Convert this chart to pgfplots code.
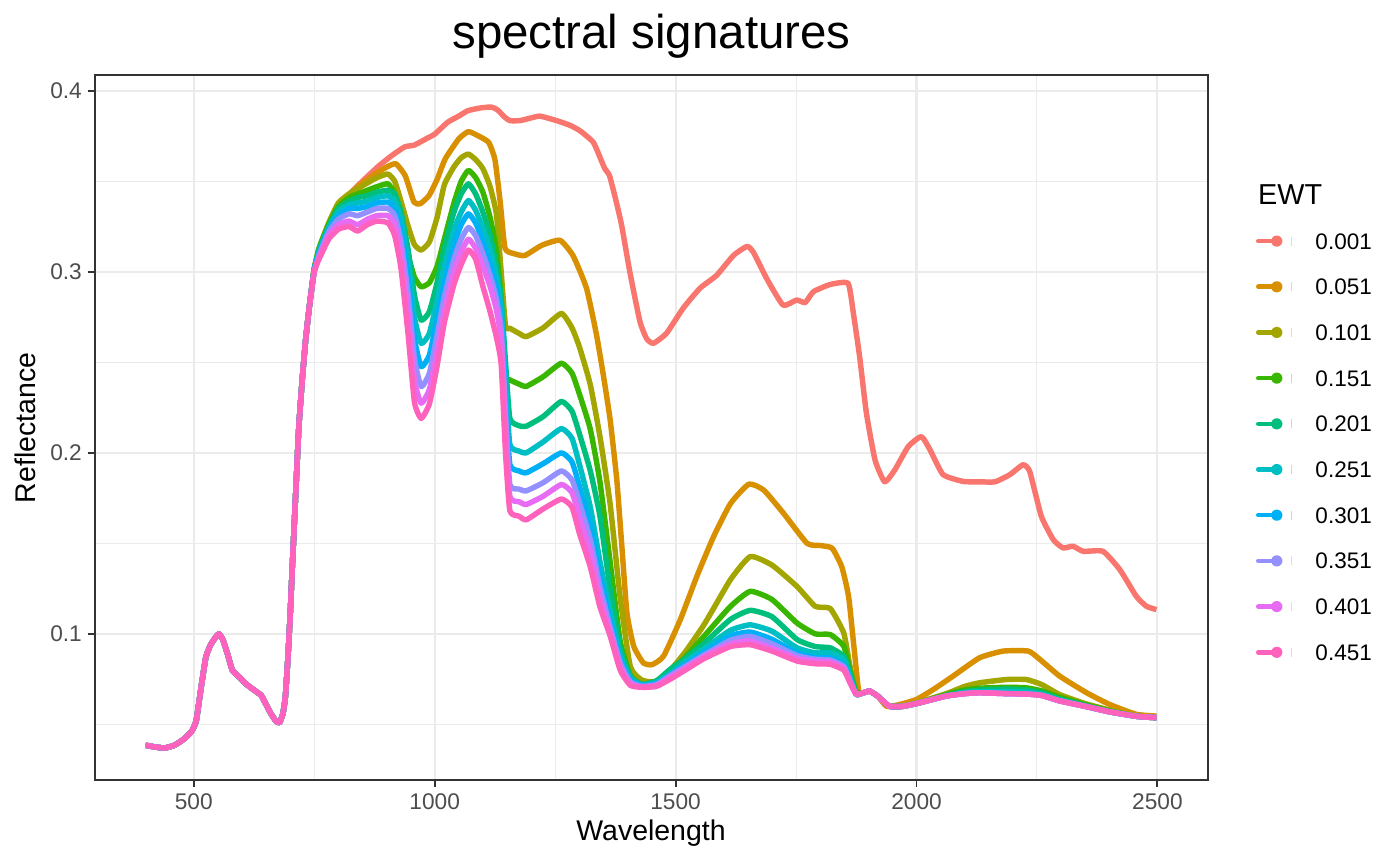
\documentclass[border=0pt]{standalone}
\usepackage{pgfplots}
\pgfplotsset{compat=1.18}
\usepackage{fontspec}
\setmainfont{Liberation Sans}
\definecolor{c1}{HTML}{F8766D}
\definecolor{c2}{HTML}{D89000}
\definecolor{c3}{HTML}{A3A500}
\definecolor{c4}{HTML}{39B600}
\definecolor{c5}{HTML}{00BF7D}
\definecolor{c6}{HTML}{00BFC4}
\definecolor{c7}{HTML}{00B0F6}
\definecolor{c8}{HTML}{9590FF}
\definecolor{c9}{HTML}{E76BF3}
\definecolor{c10}{HTML}{FF62BC}
\definecolor{gridc}{HTML}{EBEBEB}
\definecolor{axc}{HTML}{333333}
\definecolor{tickc}{HTML}{4D4D4D}
\begin{document}
\begin{tikzpicture}
\useasboundingbox (-1.9cm,-1.7cm) rectangle (26.1cm,15.6cm);
\begin{axis}[
  at={(0,0)}, anchor=south west, scale only axis,
  width=22.26cm, height=14.1cm,
  xmin=295, xmax=2605, ymin=0.0193, ymax=0.4087,
  xtick={500,1000,1500,2000,2500},
  minor xtick={750,1250,1750,2250},
  ytick={0.1,0.2,0.3,0.4},
  minor ytick={0.05,0.15,0.25,0.35},
  yticklabels={0.1,0.2,0.3,0.4},
  grid=both,
  major grid style={gridc, line width=1.15pt},
  minor grid style={gridc, line width=0.6pt},
  axis line style={axc, line width=0.8pt},
  tick align=outside, tick pos=left,
  major tick length=0.14cm, minor tick length=0pt,
  tick style={axc, line width=1.1pt},
  ticklabel style={font=\fontsize{12.9}{15}\selectfont, text=tickc},
  /pgf/number format/assume math mode=true,
  /pgf/number format/1000 sep={},
  legend cell align=left,
  legend style={at={(1.0431,0.7759)}, anchor=north west, draw=none, fill=none,
    inner sep=0pt, outer sep=0pt, font=\fontsize{12.8}{15}\selectfont,
    row sep=16.8pt, nodes={inner sep=0pt, text height=9.2pt, text depth=0pt},
    cells={anchor=west}},
  legend image code/.code={%
    \draw[#1, line width=2.6pt, line cap=round] (0.05cm,0cm) -- (0.4cm,0cm);
    \fill[#1] (0.42cm,0cm) circle (1.7pt);
    \draw[#1, opacity=0.35, line width=0.8pt] (0.72cm,-0.09cm) -- (0.72cm,0.09cm);
    \path (1.14cm,0cm);},
  every axis plot/.append style={line width=3.1pt, line join=round, no markers, smooth, tension=0.3},
]
% 0.001
\addplot[c1] coordinates {(400,0.0385)(420,0.0375)(440,0.037)(460,0.0385)(480,0.042)(495,0.046)(505,0.052)(515,0.070)(525,0.087)(535,0.094)(545,0.098)(552,0.100)(560,0.097)(570,0.089)(580,0.080)(595,0.076)(610,0.072)(625,0.069)(640,0.066)(650,0.061)(660,0.056)(670,0.052)(678,0.051)(685,0.056)(690,0.065)(695,0.085)(700,0.110)(705,0.140)(712,0.180)(718,0.214)(725,0.240)(732,0.262)(740,0.281)(750,0.302)
(760,0.310)(780,0.322)(800,0.333)(820,0.342)(850,0.350)(882,0.358)(910,0.364)(938,0.369)(958,0.370)(986,0.374)(1000,0.376)(1027,0.3826)(1050,0.386)(1069,0.389)(1095,0.3905)(1117,0.391)(1130,0.3895)(1145,0.3855)(1156,0.3835)(1177,0.3835)(1200,0.385)(1218,0.386)(1240,0.3845)(1253,0.3835)(1280,0.381)(1301,0.378)(1329,0.3716)(1345,0.362)(1353,0.357)(1363,0.353)(1377,0.3385)(1388,0.3257)(1405,0.300)(1426,0.2725)(1440,0.263)(1454,0.2605)(1481,0.266)(1516,0.280)(1551,0.291)(1585,0.298)(1620,0.309)(1648,0.314)(1661,0.311)(1689,0.2963)(1723,0.2816)(1751,0.2844)(1769,0.283)(1786,0.289)(1821,0.293)(1858,0.2936)(1869,0.277)(1882,0.253)(1896,0.222)(1914,0.196)(1934,0.184)(1955,0.1906)(1983,0.2035)(2010,0.209)(2028,0.2017)(2055,0.188)(2097,0.1842)(2131,0.184)(2163,0.184)(2194,0.188)(2221,0.1934)(2235,0.1897)(2259,0.165)(2284,0.152)(2304,0.1475)(2325,0.1484)(2346,0.1456)(2387,0.1456)(2422,0.1355)(2456,0.1208)(2477,0.1153)(2498,0.1134)};
\addlegendentry{0.001}
% 0.051
\addplot[c2] coordinates {(400,0.0385)(420,0.0375)(440,0.037)(460,0.0385)(480,0.042)(495,0.046)(505,0.052)(515,0.070)(525,0.087)(535,0.094)(545,0.098)(552,0.100)(560,0.097)(570,0.089)(580,0.080)(595,0.076)(610,0.072)(625,0.069)(640,0.066)(650,0.061)(660,0.056)(670,0.052)(678,0.051)(685,0.056)(690,0.065)(695,0.085)(700,0.110)(705,0.140)(712,0.180)(718,0.214)(725,0.240)(732,0.262)(740,0.281)(750,0.302)
(760,0.311)(780,0.323)(800,0.334)(820,0.342)(850,0.349)(882,0.355)(905,0.3585)(920,0.3596)(939,0.353)(957,0.3385)(970,0.3376)(988,0.342)(1005,0.351)(1022,0.3624)(1050,0.3734)(1070,0.3774)(1091,0.375)(1112,0.3715)(1125,0.362)(1136,0.3385)(1146,0.313)(1165,0.310)(1187,0.309)(1222,0.3146)(1260,0.3174)(1287,0.309)(1315,0.291)(1336,0.265)(1350,0.243)(1364,0.2186)(1378,0.185)(1388,0.150)(1399,0.1116)(1413,0.0932)(1433,0.084)(1451,0.083)(1475,0.0877)(1510,0.108)(1544,0.1317)(1579,0.1538)(1614,0.172)(1652,0.1827)(1683,0.1794)(1724,0.1666)(1773,0.150)(1801,0.1488)(1825,0.1473)(1845,0.137)(1859,0.1207)(1870,0.0932)(1880,0.0684)(1890,0.0675)(1903,0.0684)(1920,0.0655)(1938,0.060)(1965,0.061)(2000,0.0638)(2035,0.0693)(2076,0.0767)(2131,0.0868)(2180,0.0905)(2232,0.0905)(2256,0.0859)(2297,0.0767)(2353,0.0675)(2401,0.061)(2456,0.0556)(2498,0.0546)};
\addlegendentry{0.051}
% 0.101
\addplot[c3] coordinates {(400,0.0385)(420,0.0375)(440,0.037)(460,0.0385)(480,0.042)(495,0.046)(505,0.052)(515,0.070)(525,0.087)(535,0.094)(545,0.098)(552,0.100)(560,0.097)(570,0.089)(580,0.080)(595,0.076)(610,0.072)(625,0.069)(640,0.066)(650,0.061)(660,0.056)(670,0.052)(678,0.051)(685,0.056)(690,0.065)(695,0.085)(700,0.110)(705,0.140)(712,0.180)(718,0.214)(725,0.240)(732,0.262)(740,0.281)(750,0.301)
(760,0.313)(780,0.327)(800,0.338)(822,0.343)(840,0.346)(860,0.349)(880,0.352)(903,0.354)(917,0.350)(930,0.339)(945,0.325)(958,0.315)(972,0.312)(989,0.3165)(1005,0.330)(1020,0.348)(1040,0.358)(1055,0.363)(1070,0.365)(1085,0.362)(1100,0.357)(1115,0.347)(1128,0.332)(1138,0.300)(1147,0.270)(1156,0.2688)(1175,0.266)(1190,0.2642)(1225,0.269)(1263,0.277)(1285,0.269)(1301,0.258)(1323,0.2376)(1343,0.209)(1364,0.172)(1385,0.120)(1406,0.082)(1430,0.0745)(1460,0.0735)(1489,0.080)(1520,0.090)(1560,0.1055)(1614,0.130)(1655,0.1427)(1700,0.138)(1752,0.1262)(1790,0.1152)(1821,0.114)(1849,0.1005)(1862,0.082)(1875,0.068)(1890,0.0675)(1903,0.0684)(1920,0.0655)(1944,0.060)(1972,0.060)(2007,0.0625)(2062,0.067)(2100,0.071)(2131,0.073)(2187,0.0748)(2228,0.0748)(2260,0.072)(2297,0.0665)(2350,0.0615)(2400,0.058)(2456,0.0548)(2498,0.0537)};
\addlegendentry{0.101}
% 0.151
\addplot[c4] coordinates {(400,0.0385)(420,0.0375)(440,0.037)(460,0.0385)(480,0.042)(495,0.046)(505,0.052)(515,0.070)(525,0.087)(535,0.094)(545,0.098)(552,0.100)(560,0.097)(570,0.089)(580,0.080)(595,0.076)(610,0.072)(625,0.069)(640,0.066)(650,0.061)(660,0.056)(670,0.052)(678,0.051)(685,0.056)(690,0.065)(695,0.085)(700,0.110)(705,0.140)(712,0.180)(718,0.214)(725,0.240)(732,0.262)(740,0.281)(750,0.301)
(760,0.313)(780,0.326)(800,0.336)(822,0.341)(840,0.343)(860,0.345)(880,0.347)(903,0.3486)(917,0.343)(930,0.327)(945,0.309)(958,0.297)(972,0.2917)(989,0.294)(1005,0.303)(1020,0.318)(1040,0.338)(1055,0.350)(1070,0.356)(1085,0.352)(1100,0.344)(1115,0.330)(1128,0.312)(1138,0.285)(1147,0.243)(1156,0.2403)(1175,0.238)(1190,0.2367)(1225,0.242)(1263,0.2495)(1285,0.244)(1301,0.232)(1323,0.213)(1343,0.184)(1364,0.140)(1385,0.096)(1406,0.077)(1430,0.0722)(1460,0.074)(1489,0.0785)(1520,0.087)(1560,0.099)(1614,0.1152)(1655,0.1235)(1700,0.119)(1752,0.106)(1790,0.100)(1821,0.0996)(1849,0.0932)(1862,0.080)(1875,0.068)(1890,0.0675)(1903,0.0684)(1920,0.0655)(1944,0.060)(1972,0.060)(2007,0.062)(2062,0.0665)(2100,0.069)(2131,0.070)(2187,0.0705)(2228,0.0702)(2260,0.0685)(2297,0.065)(2350,0.061)(2400,0.0575)(2456,0.0545)(2498,0.0537)};
\addlegendentry{0.151}
% 0.201
\addplot[c5] coordinates {(400,0.0385)(420,0.0375)(440,0.037)(460,0.0385)(480,0.042)(495,0.046)(505,0.052)(515,0.070)(525,0.087)(535,0.094)(545,0.098)(552,0.100)(560,0.097)(570,0.089)(580,0.080)(595,0.076)(610,0.072)(625,0.069)(640,0.066)(650,0.061)(660,0.056)(670,0.052)(678,0.051)(685,0.056)(690,0.065)(695,0.085)(700,0.110)(705,0.140)(712,0.180)(718,0.214)(725,0.240)(732,0.262)(740,0.281)(750,0.301)
(760,0.312)(780,0.325)(800,0.335)(822,0.339)(840,0.341)(860,0.342)(880,0.344)(903,0.345)(917,0.343)(930,0.333)(945,0.312)(958,0.287)(972,0.2733)(989,0.278)(1005,0.294)(1020,0.313)(1040,0.333)(1055,0.343)(1070,0.3486)(1085,0.343)(1100,0.333)(1115,0.320)(1128,0.303)(1138,0.285)(1147,0.250)(1156,0.219)(1175,0.215)(1190,0.2147)(1225,0.220)(1263,0.2284)(1285,0.223)(1301,0.210)(1323,0.190)(1343,0.165)(1364,0.125)(1385,0.092)(1406,0.0765)(1430,0.072)(1460,0.074)(1489,0.0805)(1520,0.0865)(1560,0.095)(1614,0.108)(1655,0.113)(1700,0.1095)(1752,0.0969)(1790,0.093)(1821,0.0923)(1849,0.0877)(1862,0.078)(1875,0.0666)(1890,0.0675)(1903,0.0684)(1920,0.0655)(1944,0.060)(1972,0.060)(2007,0.062)(2062,0.066)(2100,0.068)(2131,0.069)(2187,0.0695)(2228,0.069)(2260,0.0675)(2297,0.064)(2350,0.0605)(2400,0.057)(2456,0.0545)(2498,0.0537)};
\addlegendentry{0.201}
% 0.251
\addplot[c6] coordinates {(400,0.0385)(420,0.0375)(440,0.037)(460,0.0385)(480,0.042)(495,0.046)(505,0.052)(515,0.070)(525,0.087)(535,0.094)(545,0.098)(552,0.100)(560,0.097)(570,0.089)(580,0.080)(595,0.076)(610,0.072)(625,0.069)(640,0.066)(650,0.061)(660,0.056)(670,0.052)(678,0.051)(685,0.056)(690,0.065)(695,0.085)(700,0.110)(705,0.140)(712,0.180)(718,0.214)(725,0.240)(732,0.262)(740,0.281)(750,0.301)
(760,0.311)(780,0.324)(800,0.333)(822,0.337)(840,0.338)(860,0.339)(880,0.341)(903,0.342)(917,0.339)(930,0.329)(945,0.305)(958,0.275)(972,0.2605)(989,0.266)(1005,0.284)(1020,0.303)(1040,0.323)(1055,0.333)(1070,0.3394)(1085,0.334)(1100,0.324)(1115,0.312)(1128,0.297)(1138,0.279)(1147,0.240)(1156,0.2046)(1175,0.201)(1190,0.200)(1225,0.206)(1263,0.2134)(1285,0.208)(1301,0.193)(1323,0.170)(1343,0.140)(1364,0.112)(1385,0.088)(1406,0.0755)(1430,0.072)(1460,0.073)(1489,0.078)(1520,0.0845)(1560,0.092)(1614,0.102)(1655,0.105)(1700,0.1015)(1752,0.0923)(1790,0.0895)(1821,0.0895)(1849,0.0858)(1862,0.076)(1875,0.0666)(1890,0.0675)(1903,0.0684)(1920,0.0655)(1944,0.060)(1972,0.060)(2007,0.062)(2062,0.0657)(2100,0.0675)(2131,0.068)(2187,0.068)(2228,0.0678)(2260,0.0665)(2297,0.0635)(2350,0.060)(2400,0.057)(2456,0.0545)(2498,0.0537)};
\addlegendentry{0.251}
% 0.301
\addplot[c7] coordinates {(400,0.0385)(420,0.0375)(440,0.037)(460,0.0385)(480,0.042)(495,0.046)(505,0.052)(515,0.070)(525,0.087)(535,0.094)(545,0.098)(552,0.100)(560,0.097)(570,0.089)(580,0.080)(595,0.076)(610,0.072)(625,0.069)(640,0.066)(650,0.061)(660,0.056)(670,0.052)(678,0.051)(685,0.056)(690,0.065)(695,0.085)(700,0.110)(705,0.140)(712,0.180)(718,0.214)(725,0.240)(732,0.262)(740,0.281)(750,0.301)
(760,0.310)(780,0.323)(800,0.331)(822,0.335)(840,0.335)(860,0.336)(880,0.338)(903,0.3385)(917,0.335)(930,0.323)(945,0.296)(958,0.263)(972,0.2476)(989,0.254)(1005,0.274)(1020,0.294)(1040,0.315)(1055,0.326)(1070,0.332)(1085,0.327)(1100,0.317)(1115,0.305)(1128,0.291)(1138,0.274)(1147,0.230)(1156,0.1936)(1175,0.190)(1190,0.189)(1225,0.194)(1263,0.200)(1285,0.195)(1301,0.181)(1323,0.160)(1343,0.132)(1364,0.108)(1385,0.086)(1406,0.0745)(1430,0.0715)(1460,0.0725)(1489,0.0775)(1520,0.083)(1560,0.090)(1614,0.099)(1655,0.101)(1700,0.097)(1752,0.0895)(1790,0.087)(1821,0.0868)(1849,0.083)(1862,0.075)(1875,0.0666)(1890,0.0675)(1903,0.0684)(1920,0.0655)(1944,0.060)(1972,0.060)(2007,0.062)(2062,0.0657)(2100,0.067)(2131,0.0675)(2187,0.067)(2228,0.0668)(2260,0.066)(2297,0.063)(2350,0.060)(2400,0.057)(2456,0.0545)(2498,0.0537)};
\addlegendentry{0.301}
% 0.351
\addplot[c8] coordinates {(400,0.0385)(420,0.0375)(440,0.037)(460,0.0385)(480,0.042)(495,0.046)(505,0.052)(515,0.070)(525,0.087)(535,0.094)(545,0.098)(552,0.100)(560,0.097)(570,0.089)(580,0.080)(595,0.076)(610,0.072)(625,0.069)(640,0.066)(650,0.061)(660,0.056)(670,0.052)(678,0.051)(685,0.056)(690,0.065)(695,0.085)(700,0.110)(705,0.140)(712,0.180)(718,0.214)(725,0.240)(732,0.262)(740,0.281)(750,0.300)
(760,0.309)(780,0.322)(800,0.329)(822,0.332)(840,0.331)(860,0.333)(880,0.335)(903,0.335)(917,0.331)(930,0.317)(945,0.287)(958,0.252)(972,0.2366)(989,0.244)(1005,0.265)(1020,0.286)(1040,0.307)(1055,0.318)(1070,0.3245)(1085,0.320)(1100,0.310)(1115,0.298)(1128,0.285)(1138,0.268)(1147,0.222)(1156,0.1826)(1175,0.180)(1190,0.179)(1225,0.1835)(1263,0.190)(1285,0.185)(1301,0.172)(1323,0.152)(1343,0.126)(1364,0.104)(1385,0.084)(1406,0.0735)(1430,0.071)(1460,0.072)(1489,0.077)(1520,0.082)(1560,0.0885)(1614,0.0965)(1655,0.0986)(1700,0.0945)(1752,0.088)(1790,0.086)(1821,0.0855)(1849,0.082)(1862,0.074)(1875,0.0666)(1890,0.0675)(1903,0.0684)(1920,0.0655)(1944,0.060)(1972,0.060)(2007,0.062)(2062,0.0657)(2100,0.067)(2131,0.0675)(2187,0.067)(2228,0.0668)(2260,0.066)(2297,0.063)(2350,0.060)(2400,0.057)(2456,0.0545)(2498,0.0537)};
\addlegendentry{0.351}
% 0.401
\addplot[c9] coordinates {(400,0.0385)(420,0.0375)(440,0.037)(460,0.0385)(480,0.042)(495,0.046)(505,0.052)(515,0.070)(525,0.087)(535,0.094)(545,0.098)(552,0.100)(560,0.097)(570,0.089)(580,0.080)(595,0.076)(610,0.072)(625,0.069)(640,0.066)(650,0.061)(660,0.056)(670,0.052)(678,0.051)(685,0.056)(690,0.065)(695,0.085)(700,0.110)(705,0.140)(712,0.180)(718,0.214)(725,0.240)(732,0.262)(740,0.281)(750,0.300)
(760,0.308)(780,0.320)(800,0.326)(822,0.328)(840,0.326)(860,0.329)(880,0.331)(903,0.331)(917,0.326)(930,0.310)(945,0.276)(958,0.240)(972,0.2274)(989,0.235)(1005,0.256)(1020,0.278)(1040,0.300)(1055,0.311)(1070,0.318)(1085,0.313)(1100,0.303)(1115,0.292)(1128,0.279)(1138,0.262)(1147,0.215)(1156,0.176)(1175,0.173)(1190,0.1715)(1225,0.176)(1263,0.1825)(1285,0.178)(1301,0.164)(1323,0.145)(1343,0.120)(1364,0.101)(1385,0.082)(1406,0.0725)(1430,0.0708)(1460,0.0715)(1489,0.076)(1520,0.081)(1560,0.0875)(1614,0.0945)(1655,0.096)(1700,0.092)(1752,0.0865)(1790,0.085)(1821,0.0845)(1849,0.081)(1862,0.0735)(1875,0.0666)(1890,0.0675)(1903,0.0684)(1920,0.0655)(1944,0.060)(1972,0.060)(2007,0.062)(2062,0.0657)(2100,0.067)(2131,0.0675)(2187,0.067)(2228,0.0668)(2260,0.066)(2297,0.063)(2350,0.060)(2400,0.057)(2456,0.0545)(2498,0.0537)};
\addlegendentry{0.401}
% 0.451
\addplot[c10] coordinates {(400,0.0385)(420,0.0375)(440,0.037)(460,0.0385)(480,0.042)(495,0.046)(505,0.052)(515,0.070)(525,0.087)(535,0.094)(545,0.098)(552,0.100)(560,0.097)(570,0.089)(580,0.080)(595,0.076)(610,0.072)(625,0.069)(640,0.066)(650,0.061)(660,0.056)(670,0.052)(678,0.051)(685,0.056)(690,0.065)(695,0.085)(700,0.110)(705,0.140)(712,0.180)(718,0.214)(725,0.240)(732,0.262)(740,0.281)(750,0.300)
(760,0.307)(780,0.318)(800,0.3235)(822,0.325)(840,0.3225)(860,0.326)(880,0.328)(903,0.327)(917,0.320)(930,0.302)(945,0.265)(958,0.228)(972,0.219)(989,0.227)(1005,0.248)(1020,0.272)(1040,0.293)(1055,0.304)(1070,0.312)(1085,0.307)(1100,0.292)(1115,0.278)(1128,0.264)(1138,0.249)(1147,0.200)(1156,0.168)(1175,0.165)(1190,0.163)(1225,0.169)(1263,0.1745)(1285,0.170)(1301,0.155)(1323,0.137)(1343,0.115)(1364,0.099)(1385,0.080)(1406,0.0716)(1430,0.0705)(1460,0.071)(1489,0.075)(1520,0.080)(1560,0.0865)(1614,0.093)(1655,0.094)(1700,0.0905)(1752,0.085)(1790,0.0835)(1821,0.0832)(1849,0.080)(1862,0.073)(1875,0.0666)(1890,0.0675)(1903,0.0684)(1920,0.0655)(1944,0.060)(1972,0.060)(2007,0.062)(2062,0.0657)(2100,0.067)(2131,0.0675)(2187,0.067)(2228,0.0668)(2260,0.066)(2297,0.063)(2350,0.060)(2400,0.057)(2456,0.0545)(2498,0.0537)};
\addlegendentry{0.451}
\end{axis}
\node[font=\fontsize{27}{32}\selectfont] at (11.13cm,14.88cm) {spectral signatures};
\node[font=\fontsize{16.2}{19}\selectfont] at (11.12cm,-1.06cm) {Wavelength};
\node[font=\fontsize{16.2}{19}\selectfont, rotate=90] at (-1.4cm,7.04cm) {Reflectance};
\node[anchor=west, font=\fontsize{16.4}{19}\selectfont] at (23.14cm,11.7cm) {EWT};
\end{tikzpicture}
\end{document}
